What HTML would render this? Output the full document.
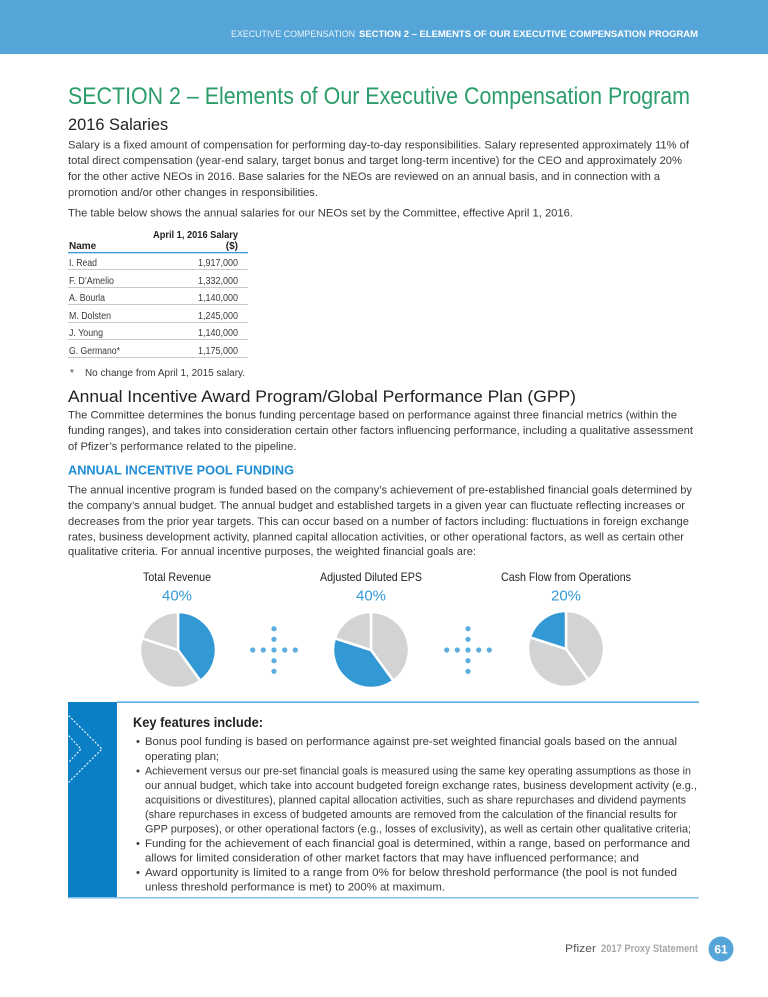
<!DOCTYPE html>
<html><head><meta charset="utf-8"><style>
html,body{margin:0;padding:0;background:#fff;}
svg{display:block;}
text{font-family:"Liberation Sans",sans-serif;}
.b{font-size:11.2px;fill:#3a3a3a;}
.k{font-size:11.2px;fill:#3a3a3a;}
.t{font-size:10px;fill:#3a3a3a;}
.tb{font-size:10px;fill:#231f20;font-weight:bold;}
</style></head><body>
<svg width="768" height="997" viewBox="0 0 768 997" xmlns="http://www.w3.org/2000/svg">
<rect x="0" y="0" width="768" height="54" fill="#56a5d8"/>
<text x="231" y="37" font-size="9.5" fill="#eaf4fb" textLength="124" lengthAdjust="spacingAndGlyphs">EXECUTIVE COMPENSATION</text>
<text x="359" y="37" font-size="9.5" fill="#ffffff" font-weight="bold" textLength="339" lengthAdjust="spacingAndGlyphs">SECTION 2 – ELEMENTS OF OUR EXECUTIVE COMPENSATION PROGRAM</text>

<text x="68" y="104" font-size="24" fill="#2a9d6b" textLength="622" lengthAdjust="spacingAndGlyphs">SECTION 2 – Elements of Our Executive Compensation Program</text>
<text x="68" y="130" font-size="16.4" fill="#231f20">2016 Salaries</text>

<text class="b" x="68" y="148.5" textLength="621" lengthAdjust="spacingAndGlyphs">Salary is a fixed amount of compensation for performing day-to-day responsibilities. Salary represented approximately 11% of</text>
<text class="b" x="68" y="164" textLength="614" lengthAdjust="spacingAndGlyphs">total direct compensation (year-end salary, target bonus and target long-term incentive) for the CEO and approximately 20%</text>
<text class="b" x="68" y="180" textLength="592" lengthAdjust="spacingAndGlyphs">for the other active NEOs in 2016. Base salaries for the NEOs are reviewed on an annual basis, and in connection with a</text>
<text class="b" x="68" y="196">promotion and/or other changes in responsibilities.</text>
<text class="b" x="68" y="216.5" textLength="505" lengthAdjust="spacingAndGlyphs">The table below shows the annual salaries for our NEOs set by the Committee, effective April 1, 2016.</text>

<!-- table -->
<text class="tb" x="238" y="238" text-anchor="end" textLength="85" lengthAdjust="spacingAndGlyphs">April 1, 2016 Salary</text>
<text class="tb" x="69" y="249">Name</text>
<text class="tb" x="238" y="249" text-anchor="end">($)</text>
<rect x="68" y="252" width="180" height="1.3" fill="#3a9ad8"/>
<g class="t">
<text x="69" y="266" textLength="28" lengthAdjust="spacingAndGlyphs">I. Read</text>
<text x="69" y="284" textLength="45" lengthAdjust="spacingAndGlyphs">F. D’Amelio</text>
<text x="69" y="301" textLength="36" lengthAdjust="spacingAndGlyphs">A. Bourla</text>
<text x="69" y="319" textLength="42" lengthAdjust="spacingAndGlyphs">M. Dolsten</text>
<text x="69" y="336" textLength="34" lengthAdjust="spacingAndGlyphs">J. Young</text>
<text x="69" y="354" textLength="51" lengthAdjust="spacingAndGlyphs">G. Germano*</text>
<text x="198" y="266" textLength="40" lengthAdjust="spacingAndGlyphs">1,917,000</text>
<text x="198" y="284" textLength="40" lengthAdjust="spacingAndGlyphs">1,332,000</text>
<text x="198" y="301" textLength="40" lengthAdjust="spacingAndGlyphs">1,140,000</text>
<text x="198" y="319" textLength="40" lengthAdjust="spacingAndGlyphs">1,245,000</text>
<text x="198" y="336" textLength="40" lengthAdjust="spacingAndGlyphs">1,140,000</text>
<text x="198" y="354" textLength="40" lengthAdjust="spacingAndGlyphs">1,175,000</text>
</g>
<g fill="#c9c9c9">
<rect x="68" y="269" width="180" height="1"/>
<rect x="68" y="287" width="180" height="1"/>
<rect x="68" y="304" width="180" height="1"/>
<rect x="68" y="322" width="180" height="1"/>
<rect x="68" y="339" width="180" height="1"/>
<rect x="68" y="357" width="180" height="1"/>
</g>
<text class="t" x="70" y="376">*</text>
<text class="t" x="85" y="376" textLength="160" lengthAdjust="spacingAndGlyphs">No change from April 1, 2015 salary.</text>

<text x="68" y="402" font-size="17" fill="#231f20" textLength="508" lengthAdjust="spacingAndGlyphs">Annual Incentive Award Program/Global Performance Plan (GPP)</text>
<text class="b" x="68" y="418.5" textLength="609" lengthAdjust="spacingAndGlyphs">The Committee determines the bonus funding percentage based on performance against three financial metrics (within the</text>
<text class="b" x="68" y="434" textLength="625" lengthAdjust="spacingAndGlyphs">funding ranges), and takes into consideration certain other factors influencing performance, including a qualitative assessment</text>
<text class="b" x="68" y="450">of Pfizer’s performance related to the pipeline.</text>

<text x="68" y="474.5" font-size="12.6" font-weight="bold" fill="#1f8dd6" textLength="226" lengthAdjust="spacingAndGlyphs">ANNUAL INCENTIVE POOL FUNDING</text>
<text class="b" x="68" y="493.5" textLength="624" lengthAdjust="spacingAndGlyphs">The annual incentive program is funded based on the company’s achievement of pre-established financial goals determined by</text>
<text class="b" x="68" y="509" textLength="617" lengthAdjust="spacingAndGlyphs">the company’s annual budget. The annual budget and established targets in a given year can fluctuate reflecting increases or</text>
<text class="b" x="68" y="525" textLength="621" lengthAdjust="spacingAndGlyphs">decreases from the prior year targets. This can occur based on a number of factors including: fluctuations in foreign exchange</text>
<text class="b" x="68" y="540.5" textLength="616" lengthAdjust="spacingAndGlyphs">rates, business development activity, planned capital allocation activities, or other operational factors, as well as certain other</text>
<text class="b" x="68" y="555" textLength="408" lengthAdjust="spacingAndGlyphs">qualitative criteria. For annual incentive purposes, the weighted financial goals are:</text>

<!-- pie labels -->
<g font-size="11.8" fill="#231f20" text-anchor="middle">
<text x="177" y="581" textLength="68" lengthAdjust="spacingAndGlyphs">Total Revenue</text>
<text x="371" y="581" textLength="102" lengthAdjust="spacingAndGlyphs">Adjusted Diluted EPS</text>
<text x="566" y="581" textLength="130" lengthAdjust="spacingAndGlyphs">Cash Flow from Operations</text>
</g>
<g font-size="15" fill="#3399d4" text-anchor="middle">
<text x="177" y="600.5">40%</text>
<text x="371" y="600.5">40%</text>
<text x="566" y="600.5">20%</text>
</g>

<!-- pies -->
<g stroke="#ffffff" stroke-width="2.5" stroke-linejoin="round">
<g transform="translate(178,650)">
<path d="M0,0 L0,-38 A38,38 0 0 1 22.34,30.74 Z" fill="#3399d4"/>
<path d="M0,0 L22.34,30.74 A38,38 0 0 1 -36.14,-11.74 Z" fill="#d1d3d4"/>
<path d="M0,0 L-36.14,-11.74 A38,38 0 0 1 0,-38 Z" fill="#d1d3d4"/>
</g>
<g transform="translate(371,650)">
<path d="M0,0 L0,-38 A38,38 0 0 1 22.34,30.74 Z" fill="#d1d3d4"/>
<path d="M0,0 L22.34,30.74 A38,38 0 0 1 -36.14,-11.74 Z" fill="#3399d4"/>
<path d="M0,0 L-36.14,-11.74 A38,38 0 0 1 0,-38 Z" fill="#d1d3d4"/>
</g>
<g transform="translate(566,649)">
<path d="M0,0 L0,-38 A38,38 0 0 1 22.34,30.74 Z" fill="#d1d3d4"/>
<path d="M0,0 L22.34,30.74 A38,38 0 0 1 -36.14,-11.74 Z" fill="#d1d3d4"/>
<path d="M0,0 L-36.14,-11.74 A38,38 0 0 1 0,-38 Z" fill="#3399d4"/>
</g>
</g>

<!-- plus dots -->
<g fill="#5aaee0">
<g transform="translate(274,650)">
<circle cx="-21.3" cy="0" r="2.6"/><circle cx="-10.7" cy="0" r="2.6"/><circle cx="0" cy="0" r="2.6"/><circle cx="10.7" cy="0" r="2.6"/><circle cx="21.3" cy="0" r="2.6"/>
<circle cx="0" cy="-21.3" r="2.6"/><circle cx="0" cy="-10.7" r="2.6"/><circle cx="0" cy="10.7" r="2.6"/><circle cx="0" cy="21.3" r="2.6"/>
</g>
<g transform="translate(468,650)">
<circle cx="-21.3" cy="0" r="2.6"/><circle cx="-10.7" cy="0" r="2.6"/><circle cx="0" cy="0" r="2.6"/><circle cx="10.7" cy="0" r="2.6"/><circle cx="21.3" cy="0" r="2.6"/>
<circle cx="0" cy="-21.3" r="2.6"/><circle cx="0" cy="-10.7" r="2.6"/><circle cx="0" cy="10.7" r="2.6"/><circle cx="0" cy="21.3" r="2.6"/>
</g>
</g>

<!-- key features box -->
<rect x="68" y="702" width="49" height="196" fill="#0b7fc6"/>
<rect x="117" y="701.5" width="582" height="1.3" fill="#3a9ad8"/>
<rect x="68" y="897" width="631" height="1.6" fill="#8cc3e8"/>
<g fill="none" stroke="#ffffff" stroke-width="1.1" stroke-dasharray="1.1 2.6" stroke-linecap="round">
<polyline points="69,716 102,749 69,782"/>
<polyline points="69,736 81,749 69,762"/>
</g>
<text x="133" y="727" font-size="14" font-weight="bold" fill="#231f20" textLength="130" lengthAdjust="spacingAndGlyphs">Key features include:</text>
<g class="k">
<text x="136" y="745">•</text>
<text x="145" y="745" textLength="532" lengthAdjust="spacingAndGlyphs">Bonus pool funding is based on performance against pre-set weighted financial goals based on the annual</text>
<text x="145" y="760">operating plan;</text>
<text x="136" y="774.5">•</text>
<text x="145" y="774.5" textLength="546" lengthAdjust="spacingAndGlyphs">Achievement versus our pre-set financial goals is measured using the same key operating assumptions as those in</text>
<text x="145" y="789" textLength="552" lengthAdjust="spacingAndGlyphs">our annual budget, which take into account budgeted foreign exchange rates, business development activity (e.g.,</text>
<text x="145" y="803.5" textLength="541" lengthAdjust="spacingAndGlyphs">acquisitions or divestitures), planned capital allocation activities, such as share repurchases and dividend payments</text>
<text x="145" y="818" textLength="532" lengthAdjust="spacingAndGlyphs">(share repurchases in excess of budgeted amounts are removed from the calculation of the financial results for</text>
<text x="145" y="832.5" textLength="546" lengthAdjust="spacingAndGlyphs">GPP purposes), or other operational factors (e.g., losses of exclusivity), as well as certain other qualitative criteria;</text>
<text x="136" y="847">•</text>
<text x="145" y="847" textLength="545" lengthAdjust="spacingAndGlyphs">Funding for the achievement of each financial goal is determined, within a range, based on performance and</text>
<text x="145" y="861.5" textLength="494" lengthAdjust="spacingAndGlyphs">allows for limited consideration of other market factors that may have influenced performance; and</text>
<text x="136" y="876">•</text>
<text x="145" y="876" textLength="532" lengthAdjust="spacingAndGlyphs">Award opportunity is limited to a range from 0% for below threshold performance (the pool is not funded</text>
<text x="145" y="890.5" textLength="300" lengthAdjust="spacingAndGlyphs">unless threshold performance is met) to 200% at maximum.</text>
</g>

<!-- footer -->
<text x="565" y="952" font-size="11" fill="#555555" textLength="31" lengthAdjust="spacingAndGlyphs">Pfizer</text>
<text x="601" y="952" font-size="11" font-weight="bold" fill="#a8a8a8" textLength="97" lengthAdjust="spacingAndGlyphs">2017 Proxy Statement</text>
<circle cx="721" cy="949" r="12.5" fill="#56a5d8"/>
<text x="721" y="953.5" font-size="12" font-weight="bold" fill="#ffffff" text-anchor="middle">61</text>
</svg>
</body></html>
